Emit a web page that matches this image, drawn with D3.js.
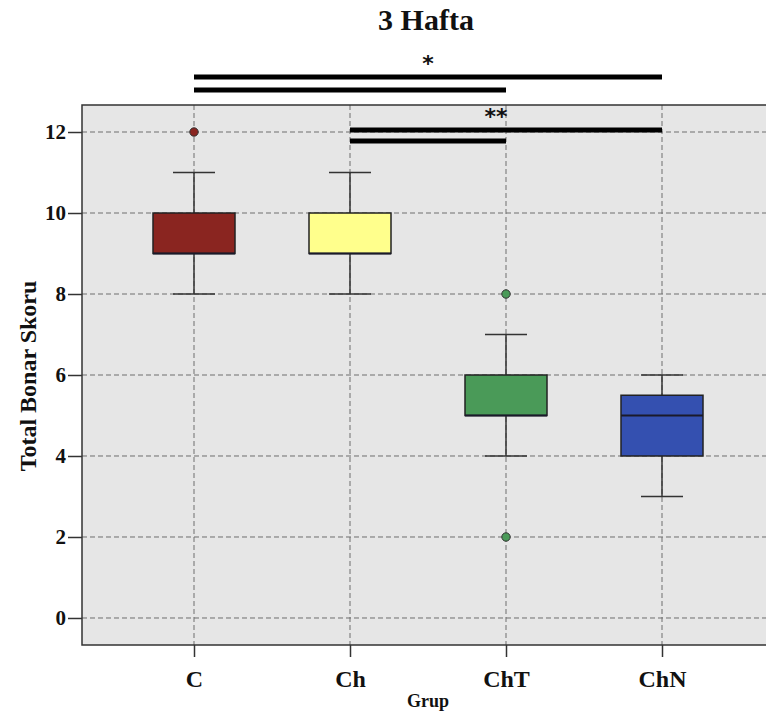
<!DOCTYPE html>
<html>
<head>
<meta charset="utf-8">
<script src="https://cdn.jsdelivr.net/npm/d3@7"></script>
<style>
  body { margin: 0; background: #fff; }
  text { font-family: "Liberation Serif", "Times New Roman", serif; font-weight: bold; fill: #111; }
</style>
</head>
<body>
<svg id="chart" width="766" height="718"></svg>
<script>
// box summaries
var groups = ["C", "Ch", "ChT", "ChN"];
var mins = [8, 8, 4, 3];
var q1s = [9, 9, 5, 4];
var medians = [9, 9, 5, 5];
var q3s = [10, 10, 6, 5.5];
var maxs = [11, 11, 7, 6];
var outliers = [[12], [], [8, 2], []];
var yTicks = [0, 2, 4, 6, 8, 10, 12];

// significance brackets (level in score units)
var sigFrom = ["C", "C", "Ch", "Ch"];
var sigTo = ["ChN", "ChT", "ChN", "ChT"];
var sigLevel = [13.36, 13.04, 12.05, 11.78];
var sigText = ["*", "**"];
var sigTextLevel = [13.8, 12.5];

var fills = ["#8a2520", "#ffff8c", "#4a9a58", "#3450b0"];

var svg = d3.select("#chart");
var plotLeft = 82, plotTop = 105, plotBottom = 645, plotRight = 790;

var x = d3.scalePoint().domain(groups).range([194, 662]);
var y = d3.scaleLinear().domain([-0.667, 12.667]).range([plotBottom, plotTop]);

// plot background
svg.append("rect")
    .attr("x", plotLeft).attr("y", plotTop)
    .attr("width", plotRight - plotLeft).attr("height", plotBottom - plotTop)
    .attr("fill", "#e6e6e6");

// grid lines
svg.append("g").selectAll("line")
    .data(yTicks)
    .enter().append("line")
    .attr("x1", plotLeft).attr("x2", plotRight)
    .attr("y1", function(d) { return y(d); })
    .attr("y2", function(d) { return y(d); })
    .attr("stroke", "#6e6e6e")
    .attr("stroke-width", 1)
    .attr("stroke-dasharray", "5,3");

svg.append("g").selectAll("line")
    .data(groups)
    .enter().append("line")
    .attr("x1", function(d) { return x(d); })
    .attr("x2", function(d) { return x(d); })
    .attr("y1", plotTop).attr("y2", plotBottom)
    .attr("stroke", "#6e6e6e")
    .attr("stroke-width", 1)
    .attr("stroke-dasharray", "5,3");

// frame
svg.append("path")
    .attr("d", "M" + plotRight + "," + plotTop + "H" + plotLeft + "V" + plotBottom + "H" + plotRight)
    .attr("fill", "none")
    .attr("stroke", "#333")
    .attr("stroke-width", 1.5);

// axes
var yAxis = d3.axisLeft(y).tickValues(yTicks).tickSize(14).tickPadding(2).tickFormat(d3.format("d"));
var gy = svg.append("g").attr("transform", "translate(" + plotLeft + ",0)").call(yAxis);
gy.select(".domain").remove();
gy.selectAll(".tick line").attr("stroke", "#333").attr("stroke-width", 1.5);
gy.selectAll(".tick text").style("font-size", "21px").attr("fill", "#111");

var xAxis = d3.axisBottom(x).tickSize(12).tickPadding(13);
var gx = svg.append("g").attr("transform", "translate(0," + plotBottom + ")").call(xAxis);
gx.select(".domain").remove();
gx.selectAll(".tick line").attr("stroke", "#333").attr("stroke-width", 1.5);
gx.selectAll(".tick text").style("font-size", "24px").attr("fill", "#111");

// boxes
var boxW = 82, capW = 42;
var boxes = svg.append("g").selectAll("g")
    .data(groups)
    .enter().append("g");

boxes.append("line")
    .attr("x1", function(d) { return x(d); })
    .attr("x2", function(d) { return x(d); })
    .attr("y1", function(d, i) { return y(maxs[i]); })
    .attr("y2", function(d, i) { return y(mins[i]); })
    .attr("stroke", "#333").attr("stroke-width", 1.5);

boxes.append("line")
    .attr("x1", function(d) { return x(d) - capW / 2; })
    .attr("x2", function(d) { return x(d) + capW / 2; })
    .attr("y1", function(d, i) { return y(maxs[i]); })
    .attr("y2", function(d, i) { return y(maxs[i]); })
    .attr("stroke", "#333").attr("stroke-width", 1.5);

boxes.append("line")
    .attr("x1", function(d) { return x(d) - capW / 2; })
    .attr("x2", function(d) { return x(d) + capW / 2; })
    .attr("y1", function(d, i) { return y(mins[i]); })
    .attr("y2", function(d, i) { return y(mins[i]); })
    .attr("stroke", "#333").attr("stroke-width", 1.5);

boxes.append("rect")
    .attr("x", function(d) { return x(d) - boxW / 2; })
    .attr("width", boxW)
    .attr("y", function(d, i) { return y(q3s[i]); })
    .attr("height", function(d, i) { return y(q1s[i]) - y(q3s[i]); })
    .attr("fill", function(d, i) { return fills[i]; })
    .attr("stroke", "#222").attr("stroke-width", 1.5);

boxes.append("line")
    .attr("x1", function(d) { return x(d) - boxW / 2; })
    .attr("x2", function(d) { return x(d) + boxW / 2; })
    .attr("y1", function(d, i) { return y(medians[i]); })
    .attr("y2", function(d, i) { return y(medians[i]); })
    .attr("stroke", "#1a1a2a").attr("stroke-width", 2);

boxes.each(function(d, i) {
  d3.select(this).selectAll("circle")
      .data(outliers[i])
      .enter().append("circle")
      .attr("cx", x(d))
      .attr("cy", function(v) { return y(v); })
      .attr("r", 4.2)
      .attr("fill", fills[i])
      .attr("stroke", "#333").attr("stroke-width", 1);
});

// significance bars
svg.append("g").selectAll("line")
    .data(sigLevel)
    .enter().append("line")
    .attr("x1", function(d, i) { return x(sigFrom[i]); })
    .attr("x2", function(d, i) { return x(sigTo[i]); })
    .attr("y1", function(d) { return y(d); })
    .attr("y2", function(d) { return y(d); })
    .attr("stroke", "#000").attr("stroke-width", 5);

svg.append("g").selectAll("text")
    .data(sigText)
    .enter().append("text")
    .attr("x", function(d, i) { return i === 0 ? (x("C") + x("ChN")) / 2 : x("ChT") - 10; })
    .attr("y", function(d, i) { return y(sigTextLevel[i]); })
    .attr("dy", "0.55em")
    .attr("text-anchor", "middle")
    .style("font-family", "DejaVu Sans, sans-serif")
    .style("font-size", "22px")
    .text(function(d) { return d; });

// titles
svg.append("text")
    .attr("x", 426).attr("y", 30)
    .attr("text-anchor", "middle")
    .style("font-size", "30px")
    .text("3 Hafta");

svg.append("text")
    .attr("transform", "translate(36,376) rotate(-90)")
    .attr("text-anchor", "middle")
    .style("font-size", "24px")
    .text("Total Bonar Skoru");

svg.append("text")
    .attr("x", 428).attr("y", 707)
    .attr("text-anchor", "middle")
    .style("font-size", "18px")
    .text("Grup");
</script>
</body>
</html>
